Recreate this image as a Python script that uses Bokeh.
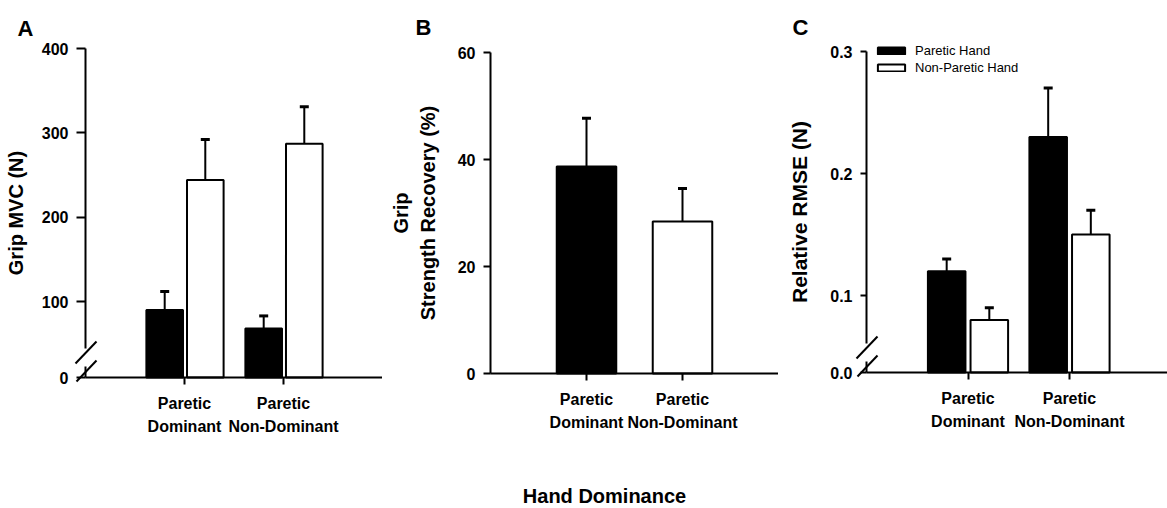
import numpy as np
from bokeh.plotting import figure
from bokeh.layouts import row
from bokeh.models import (Range1d, FixedTicker, Whisker, TeeHead, ColumnDataSource,
                          Label, Arrow, Legend, LegendItem)
from bokeh.embed import file_html
from bokeh.resources import INLINE

# ---------------- data ----------------
categories = ["Paretic\nDominant", "Paretic\nNon-Dominant"]
hand_labels = ["Paretic Hand", "Non-Paretic Hand"]

mvc_paretic = [90, 68]
mvc_paretic_sem = [22, 15]
mvc_nonparetic = [244, 287]
mvc_nonparetic_sem = [48, 44]

recovery = [38.7, 28.4]
recovery_sem = [9.0, 6.2]

rmse_paretic = [0.12, 0.23]
rmse_paretic_sem = [0.01, 0.04]
rmse_nonparetic = [0.08, 0.15]
rmse_nonparetic_sem = [0.01, 0.02]

ticks_a = [10, 100, 200, 300, 400]
tick_labels_a = ["0", "100", "200", "300", "400"]
ticks_b = [0, 20, 40, 60]
tick_labels_b = ["0", "20", "40", "60"]
ticks_c = [0.037, 0.1, 0.2, 0.3]
tick_labels_c = ["0.0", "0.1", "0.2", "0.3"]

FONT = "Liberation Sans"
H = 508


def make_fig(width, ax_px, unit_px, ticks, tick_labels, top_px, bot_px, ylabel, standoff,
             tick_out, ylabel_size="20px"):
    """Frame covers the whole figure; axes are fixed at data x=0 and y=ticks[0]."""
    y_lo, y_hi = ticks[0], ticks[-1]
    ppu = (bot_px - top_px) / (y_hi - y_lo)
    yr = Range1d(y_lo - (H - bot_px) / ppu, y_hi + top_px / ppu)
    xr = Range1d(-ax_px / unit_px, (width - ax_px) / unit_px)
    p = figure(width=width, height=H, x_range=xr, y_range=yr,
               output_backend="svg", toolbar_location=None, min_border=0)
    p.outline_line_color = None
    p.grid.visible = False
    xpos = list(range(1, len(categories) + 1))
    p.xaxis.ticker = FixedTicker(ticks=xpos)
    p.xaxis.major_label_overrides = {x: c for x, c in zip(xpos, categories)}
    p.xaxis.fixed_location = y_lo
    p.xaxis.bounds = (0, xr.end)
    p.yaxis.ticker = FixedTicker(ticks=ticks)
    p.yaxis.major_label_overrides = {t: l for t, l in zip(ticks, tick_labels)}
    p.yaxis.fixed_location = 0
    p.yaxis.bounds = (y_lo, y_hi)
    p.yaxis.axis_label = ylabel
    p.yaxis.axis_label_standoff = standoff
    for ax in (p.xaxis[0], p.yaxis[0]):
        ax.axis_line_width = 2
        ax.axis_line_color = "black"
        ax.major_tick_line_width = 2
        ax.major_tick_in = 0
        ax.minor_tick_line_color = None
        ax.major_label_text_font = FONT
        ax.major_label_text_font_style = "bold"
        ax.major_label_text_font_size = "16px"
        ax.major_label_text_color = "black"
        ax.axis_label_text_font = FONT
        ax.axis_label_text_font_style = "bold"
        ax.axis_label_text_font_size = ylabel_size
        ax.axis_label_text_color = "black"
    p.yaxis.major_tick_out = tick_out
    p.yaxis.major_label_standoff = 8
    p.xaxis.major_tick_out = 7
    p.xaxis.major_label_standoff = 10
    p.xaxis.major_label_text_line_height = 1.4
    return p


def panel_label(p, text, x, y):
    p.add_layout(Label(x=x, y=y, x_units="screen", y_units="screen", text=text,
                       text_font=FONT, text_font_style="bold", text_font_size="22px",
                       text_baseline="alphabetic", text_color="black"))


def axis_break(p, cx, cy):
    """Broken-axis marks at the axis corner (cx, cy in screen px from bottom-left)."""
    p.add_layout(Arrow(start=None, end=None, x_start=cx, y_start=cy + 11, x_end=cx, y_end=cy + 29,
                       start_units="screen", end_units="screen",
                       line_color="white", line_width=6))
    for (x0, y0, x1, y1) in [(-10, 14, 11, 36), (-9, -4, 11, 17)]:
        p.add_layout(Arrow(start=None, end=None, x_start=cx + x0, y_start=cy + y0,
                           x_end=cx + x1, y_end=cy + y1,
                           start_units="screen", end_units="screen",
                           line_color="black", line_width=2))


def grouped_bars(p, series, sems, offsets, width, base):
    rends = []
    for vals, sem, off, color in zip(series, sems, offsets, ["black", "white"]):
        x = np.arange(1, len(vals) + 1) + off
        src = ColumnDataSource(dict(x=x, top=vals, up=np.array(vals) + np.array(sem)))
        p.add_layout(Whisker(base="x", lower="top", upper="up", source=src,
                             line_width=2, line_color="black", lower_head=None,
                             upper_head=TeeHead(size=9, line_width=3, line_color="black")))
        r = p.vbar(x="x", top="top", bottom=base, width=width, source=src,
                   fill_color=color, line_color="black", line_width=2)
        rends.append(r)
    return rends


# ---------------- Panel A ----------------
pa = make_fig(382, 85, 99, ticks_a, tick_labels_a, 48, 377, "Grip MVC (N)", 12, 9)
grouped_bars(pa, [mvc_paretic, mvc_nonparetic], [mvc_paretic_sem, mvc_nonparetic_sem],
             [-0.2, 0.21], 0.37, ticks_a[0])
axis_break(pa, 85, H - 377)
panel_label(pa, "A", 17, H - 28)

# ---------------- Panel B ----------------
pb = make_fig(396, 108, 96, ticks_b, tick_labels_b, 52, 373, "Grip\nStrength Recovery (%)", 16, 7)
srcb = ColumnDataSource(dict(x=np.arange(1, len(recovery) + 1), top=recovery,
                             up=np.array(recovery) + np.array(recovery_sem),
                             color=["black", "white"]))
pb.add_layout(Whisker(base="x", lower="top", upper="up", source=srcb,
                      line_width=2, line_color="black", lower_head=None,
                      upper_head=TeeHead(size=9, line_width=3, line_color="black")))
pb.vbar(x="x", top="top", bottom=0, width=0.62, source=srcb,
        fill_color="color", line_color="black", line_width=2)
panel_label(pb, "B", 33, H - 27)
pb.add_layout(Label(x=222, y=H - 495, x_units="screen", y_units="screen", text="Hand Dominance",
                    text_font=FONT, text_font_style="bold", text_font_size="20px",
                    text_align="center", text_baseline="middle", text_color="black"))

# ---------------- Panel C ----------------
pc = make_fig(389, 88, 101.5, ticks_c, tick_labels_c, 51, 372, "Relative RMSE (N)", 16, 6,
              ylabel_size="21px")
rc = grouped_bars(pc, [rmse_paretic, rmse_nonparetic], [rmse_paretic_sem, rmse_nonparetic_sem],
                  [-0.21, 0.21], 0.37, ticks_c[0])
axis_break(pc, 88, H - 372)
panel_label(pc, "C", 14, H - 27)
legend = Legend(items=[LegendItem(label=hand_labels[0], renderers=[rc[0]]),
                       LegendItem(label=hand_labels[1], renderers=[rc[1]])],
                location=(96, H - 75), padding=0, margin=0, border_line_color=None,
                background_fill_alpha=0, glyph_width=34, glyph_height=9,
                label_standoff=7, spacing=2, label_height=12,
                label_text_font=FONT, label_text_font_size="13px", label_text_color="black")
pc.add_layout(legend)

layout = row(pa, pb, pc, spacing=0)
open("out.html", "w").write(file_html(layout, INLINE))
